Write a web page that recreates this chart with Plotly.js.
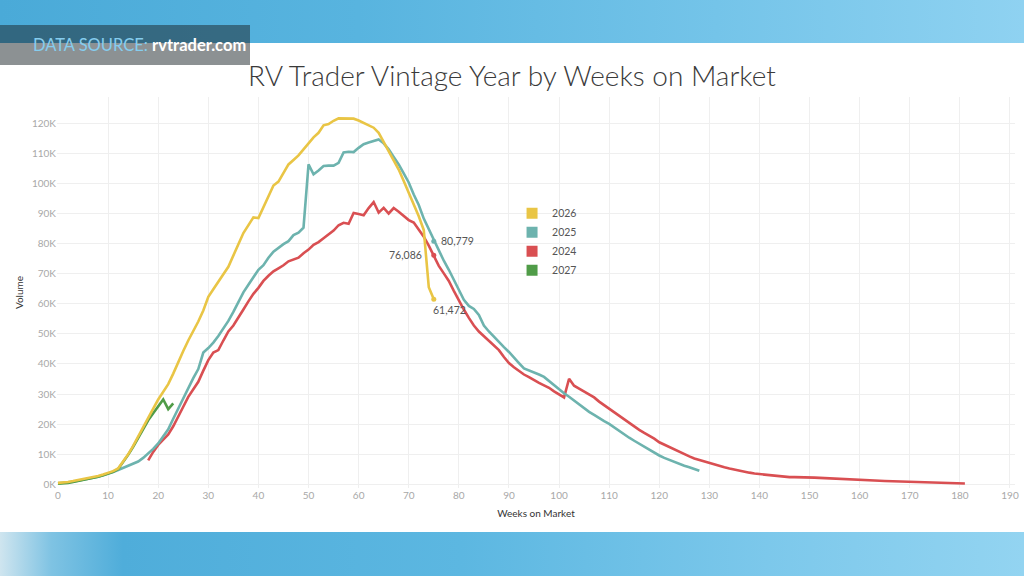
<!DOCTYPE html>
<html>
<head>
<meta charset="utf-8">
<script src="https://cdn.plot.ly/plotly-3.0.1.min.js"></script>
<style>
html,body{margin:0;padding:0;width:1024px;height:576px;overflow:hidden;}
body{position:relative;background:#fff;font-family:Lato,"Open Sans",sans-serif;}
#topband{position:absolute;left:0;top:0;width:1024px;height:43px;background:linear-gradient(90deg,#4aaad8 0%,#58b4df 35%,#74c4e9 70%,#8fd2f1 100%);}
#botband{position:absolute;left:0;top:532px;width:1024px;height:44px;background:linear-gradient(90deg,#cfe5ef 0%,#7fc3e3 5%,#4fadda 12%,#5cb7e1 45%,#7cc8eb 75%,#93d4f1 100%);}
#chart{position:absolute;left:0;top:0;width:1024px;height:576px;}
#banner{position:absolute;left:0;top:25px;width:250px;height:40px;background:rgba(25,35,40,0.5);line-height:40px;padding-left:33px;box-sizing:border-box;font-size:16.5px;white-space:nowrap;z-index:5;}
#banner .k{color:#86cdee;}
#banner .v{color:#ffffff;font-weight:700;}
</style>
</head>
<body>
<div id="topband"></div>
<div id="botband"></div>
<div id="chart"></div>
<div id="banner"><span class="k">DATA SOURCE: </span><span class="v">rvtrader.com</span></div>
<script>
// ---------- data ----------
const seriesNames = ['2026', '2025', '2024', '2027'];
const seriesColors = ['#E9C545', '#6DB3AE', '#D94F52', '#509C48'];

const weeks2026 = Array.from({length: 76}, (_, i) => i);
const vol2026 = [
  500, 600, 800, 1100, 1400, 1700, 2000, 2400, 2800, 3300,
  3800, 4400, 5300, 7500, 10000, 12800, 16000, 19200, 22200, 25200,
  28200, 30800, 33300, 36800, 40800, 44300, 47800, 50800, 54100, 57800,
  62300, 64800, 67100, 69800, 72300, 75800, 79800, 83500, 86300, 88700,
  88500, 92300, 95800, 99300, 100600, 103300, 106300, 107800, 109300, 111300,
  113500, 115300, 116800, 119300, 119700, 120800, 121600, 121600, 121600, 121500,
  120900, 120100, 119500, 118500, 116800, 113800, 110800, 107800, 104600, 100800,
  96900, 93000, 89100, 84500, 65500, 61472
];

const weeks2025 = Array.from({length: 129}, (_, i) => i);
const vol2025 = [
  400, 500, 700, 900, 1200, 1500, 1800, 2100, 2500, 3000,
  3500, 4100, 4800, 5500, 6100, 6800, 7600, 8800, 10200, 11800,
  13600, 15800, 18300, 21800, 25300, 28800, 32300, 35300, 38300, 43800,
  45300, 47100, 49300, 51800, 54300, 57300, 60800, 63800, 66300, 68800,
  71300, 72800, 75300, 77300, 78600, 79800, 80800, 82800, 83600, 85300,
  106300, 103000, 104300, 105800, 105900, 105900, 106800, 110300, 110500, 110400,
  111800, 113000, 113600, 114000, 114600, 113300, 111300, 108800, 106300, 103300,
  100300, 96300, 92800, 88300, 84800, 80779, 77800, 74300, 71300, 67800,
  64300, 61300, 59300, 58300, 56300, 52800, 50800, 49000, 47300, 45600,
  44000, 42300, 40300, 38500, 37900, 37300, 36500, 35700, 34300, 32800,
  31600, 30300, 29100, 27800, 26600, 25300, 24100, 23100, 22000, 21000,
  20100, 18900, 17700, 16500, 15500, 14500, 13500, 12500, 11500, 10500,
  9600, 8800, 8100, 7400, 6800, 6200, 5700, 5100, 4500
];

const weeks2024 = Array.from({length: 164}, (_, i) => i + 18);
const vol2024 = [
  8000, 10800, 13100, 14800, 16600, 19300, 22300, 25800, 29100, 31800,
  34100, 37800, 41300, 43800, 44600, 47800, 50800, 52800, 55300, 58100,
  60800, 63300, 65300, 67600, 69300, 70800, 71800, 72800, 74100, 74800,
  75300, 76800, 78000, 79600, 80500, 81800, 83100, 84300, 86100, 86900,
  86600, 90200, 89800, 89400, 91800, 93800, 90300, 91900, 90000, 91800,
  90600, 89300, 87800, 87000, 84800, 82300, 79300, 76086, 72600, 70100,
  67600, 64300, 61100, 58100, 55300, 52800, 50800, 49300, 47600, 46300,
  44600, 42300, 40300, 38900, 37600, 36500, 35600, 34600, 33700, 32900,
  32100, 30900, 29900, 28900, 35100, 32800, 31800, 30800, 29900, 28900,
  27500, 26300, 25100, 23900, 22900, 21800, 20300, 19100, 18100, 17100,
  16200, 15200, 14000, 13200, 12300, 11500, 10800, 10000, 9300, 8600,
  8100, 7500, 7100, 6600, 6200, 5700, 5300, 4900, 4600, 4200,
  3900, 3600, 3400, 3200, 3000, 2800, 2600, 2450, 2400, 2400,
  2400, 2350, 2300, 2250, 2150, 2050, 1950, 1900, 1800, 1700,
  1600, 1500, 1400, 1350, 1300, 1250, 1200, 1150, 1100, 1000,
  900, 850, 750, 700, 650, 600, 550, 500, 450, 400,
  380, 350, 320, 300
];

const weeks2027 = Array.from({length: 24}, (_, i) => i);
const vol2027 = [
  200, 300, 500, 800, 1100, 1400, 1700, 2100, 2500, 3000,
  3500, 4200, 5100, 7300, 9800, 12500, 15500, 18500, 21300, 23600,
  25800, 28200, 25000, 26900
];

const labelWeek = 75;
const xTickVals = [0,10,20,30,40,50,60,70,80,90,100,110,120,130,140,150,160,170,180,190];
const yTickVals = [0,10000,20000,30000,40000,50000,60000,70000,80000,90000,100000,110000,120000];
const yTickText = ['0K','10K','20K','30K','40K','50K','60K','70K','80K','90K','100K','110K','120K'];

// ---------- chart ----------
const seriesWeeks = [weeks2026, weeks2025, weeks2024, weeks2027];
const seriesVols = [vol2026, vol2025, vol2024, vol2027];
const drawOrder = [2, 1, 3, 0]; // 2024, 2025, 2027, 2026 on top

function valueAt(ws, vs, w) { const i = ws.indexOf(w); return i >= 0 ? vs[i] : null; }

const traces = [];
drawOrder.forEach(k => {
  traces.push({
    type: 'scatter', mode: 'lines', name: seriesNames[k],
    x: seriesWeeks[k], y: seriesVols[k],
    line: {color: seriesColors[k], width: 2.6},
    showlegend: false, hoverinfo: 'skip'
  });
});
// legend entries (square swatches)
[0, 1, 2, 3].forEach(k => {
  traces.push({
    type: 'scatter', mode: 'markers', name: seriesNames[k],
    x: [null], y: [null],
    marker: {symbol: 'square', size: 11, color: seriesColors[k]},
    showlegend: true
  });
});
// value markers at week 75
const lblIdx = [1, 2, 0];
const lblY = lblIdx.map(k => valueAt(seriesWeeks[k], seriesVols[k], labelWeek));
traces.push({
  type: 'scatter', mode: 'markers', showlegend: false,
  x: lblIdx.map(() => labelWeek), y: lblY,
  marker: {size: 5, color: lblIdx.map(k => seriesColors[k])}
});
const lblStyle = [
  {xanchor: 'left', yanchor: 'middle', xshift: 5, yshift: 0},
  {xanchor: 'right', yanchor: 'middle', xshift: -10, yshift: 0},
  {xanchor: 'left', yanchor: 'top', xshift: -3, yshift: -3}
];
const annotations = lblIdx.map((k, j) => Object.assign({
  x: labelWeek, y: lblY[j], xref: 'x', yref: 'y', showarrow: false,
  text: lblY[j].toLocaleString('en-US'),
  font: {family: 'Lato', size: 10.5, color: '#555555'}
}, lblStyle[j]));

const layout = {
  width: 1024, height: 576,
  paper_bgcolor: 'rgba(0,0,0,0)', plot_bgcolor: 'rgba(0,0,0,0)',
  margin: {l: 57, r: 9, t: 97, b: 88},
  title: {
    text: 'RV Trader Vintage Year by Weeks on Market',
    font: {family: 'Lato', size: 28, color: '#3a3a3a', weight: 300},
    x: 0.5, xref: 'container', xanchor: 'center',
    y: 1 - 76 / 576, yref: 'container', yanchor: 'middle'
  },
  xaxis: {
    range: [-0.2, 191], tickvals: xTickVals,
    showgrid: true, gridcolor: '#efefef', gridwidth: 1,
    zeroline: false, showline: false, ticks: '',
    tickfont: {family: 'Lato', size: 10, color: '#a8a8a8'},
    title: {text: 'Weeks on Market', font: {family: 'Lato', size: 10, color: '#333333'}, standoff: 9}
  },
  yaxis: {
    range: [-1200, 128700], tickvals: yTickVals, ticktext: yTickText,
    showgrid: true, gridcolor: '#efefef', gridwidth: 1,
    zeroline: false, showline: false, ticks: '',
    tickfont: {family: 'Lato', size: 10, color: '#a8a8a8'},
    title: {text: 'Volume', font: {family: 'Lato', size: 10, color: '#333333'}, standoff: 6}
  },
  annotations: annotations,
  showlegend: true,
  legend: {
    x: 0.475, y: 0.74, xanchor: 'left', yanchor: 'top',
    bgcolor: 'rgba(0,0,0,0)', borderwidth: 0,
    font: {family: 'Lato', size: 10.5, color: '#555555'},
    traceorder: 'normal', itemwidth: 30
  }
};

Plotly.newPlot('chart', traces, layout, {staticPlot: true, displayModeBar: false});
</script>
</body>
</html>
